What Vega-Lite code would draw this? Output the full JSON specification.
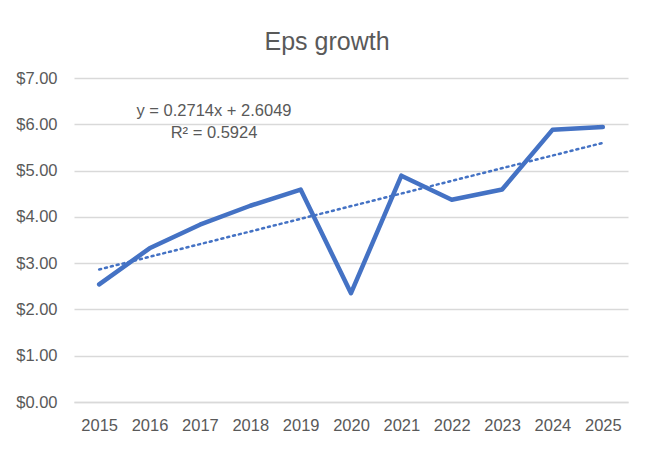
{
  "$schema": "https://vega.github.io/schema/vega-lite/v6.json",
  "width": 554,
  "height": 324,
  "autosize": {"type": "none"},
  "padding": {"left": 74, "top": 78, "right": 23, "bottom": 50},
  "background": "white",
  "config": {
    "font": "Liberation Sans",
    "view": {"stroke": null},
    "axis": {"labelColor": "#595959", "labelFont": "Liberation Sans", "labelFontSize": 16.5, "ticks": false, "title": null}
  },
  "title": {
    "text": "Eps growth",
    "font": "Liberation Sans",
    "fontSize": 25,
    "fontWeight": "normal",
    "color": "#595959",
    "anchor": "middle",
    "baseline": "alphabetic",
    "offset": 28,
    "dx": -24,
    "dy": 33
  },
  "datasets": {
    "eps": [
      {"year": 2015, "eps": 2.54},
      {"year": 2016, "eps": 3.32},
      {"year": 2017, "eps": 3.83},
      {"year": 2018, "eps": 4.24},
      {"year": 2019, "eps": 4.59},
      {"year": 2020, "eps": 2.35},
      {"year": 2021, "eps": 4.89},
      {"year": 2022, "eps": 4.37},
      {"year": 2023, "eps": 4.59},
      {"year": 2024, "eps": 5.88},
      {"year": 2025, "eps": 5.94}
    ],
    "notes": [
      {"year": 2017.28, "eps": 6.29, "label": "y = 0.2714x + 2.6049"},
      {"year": 2017.28, "eps": 5.81, "label": "R² = 0.5924"}
    ]
  },
  "layer": [
    {
      "data": {"name": "eps"},
      "transform": [{"regression": "eps", "on": "year"}],
      "mark": {"type": "line", "color": "#4472C4", "strokeWidth": 2.5, "strokeDash": [2, 4], "strokeCap": "round"},
      "encoding": {
        "x": {"field": "year", "type": "quantitative"},
        "y": {"field": "eps", "type": "quantitative"}
      }
    },
    {
      "data": {"name": "eps"},
      "mark": {"type": "line", "color": "#4472C4", "strokeWidth": 4.5, "strokeJoin": "round", "strokeCap": "round"},
      "encoding": {
        "x": {
          "field": "year",
          "type": "quantitative",
          "scale": {"domain": [2014.5, 2025.5], "nice": false, "zero": false},
          "axis": {"values": [2015, 2016, 2017, 2018, 2019, 2020, 2021, 2022, 2023, 2024, 2025], "format": "d", "grid": false, "domain": true, "domainColor": "#d9d9d9", "domainWidth": 1.5, "labelPadding": 15}
        },
        "y": {
          "field": "eps",
          "type": "quantitative",
          "scale": {"domain": [0, 7], "nice": false},
          "axis": {"values": [0, 1, 2, 3, 4, 5, 6, 7], "format": "$.2f", "grid": true, "gridColor": "#d9d9d9", "gridWidth": 1.5, "domain": false, "labelPadding": 17}
        }
      }
    },
    {
      "data": {"name": "notes"},
      "mark": {"type": "text", "color": "#595959", "font": "Liberation Sans", "fontSize": 16.5, "align": "center", "baseline": "middle"},
      "encoding": {
        "x": {"field": "year", "type": "quantitative"},
        "y": {"field": "eps", "type": "quantitative"},
        "text": {"field": "label"}
      }
    }
  ]
}
